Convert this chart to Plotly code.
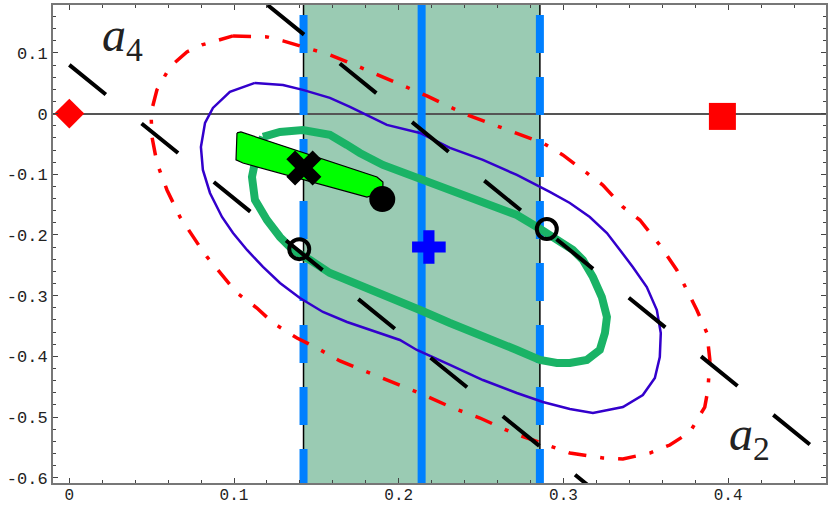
import plotly.graph_objects as go

# axis ranges / ticks
x_range = [-0.0099, 0.4594]
y_range = [-0.6087, 0.179]
x_ticks = [0, 0.1, 0.2, 0.3, 0.4]
x_ticktext = ["0", "0.1", "0.2", "0.3", "0.4"]
y_ticks = [-0.6, -0.5, -0.4, -0.3, -0.2, -0.1, 0, 0.1]
y_ticktext = ["-0.6", "-0.5", "-0.4", "-0.3", "-0.2", "-0.1", "0", "0.1"]

# shaded band and its edges
band_lo = 0.1422
band_hi = 0.2857
band_mid = 0.2139
band_y = [0.1627, -0.64]

# outer red dash-dot contour
red_x = [0.0994, 0.1200, 0.1297, 0.1480, 0.1583, 0.1704, 0.1886, 0.2050, 0.2171, 0.2311,
         0.2432, 0.2596, 0.2717, 0.2875, 0.2996, 0.3118, 0.3239, 0.3361, 0.3464, 0.3585,
         0.3688, 0.3810, 0.3871, 0.3889, 0.3877, 0.3858, 0.3810, 0.3768, 0.3646, 0.3525,
         0.3361, 0.3239, 0.3039, 0.2936, 0.2693, 0.2493, 0.2329, 0.2110, 0.1782, 0.1643,
         0.1503, 0.1382, 0.1237, 0.1139, 0.1018, 0.0915, 0.0836, 0.0793, 0.0672, 0.0593,
         0.0532, 0.0502, 0.0496, 0.0532, 0.0611, 0.0714, 0.0805, 0.0994]
red_y = [0.1281, 0.1264, 0.1198, 0.1050, 0.0968, 0.0836, 0.0622, 0.0440, 0.0292, 0.0110,
         -0.0038, -0.0203, -0.0318, -0.0483, -0.0681, -0.0928, -0.1176, -0.1538, -0.1753, -0.2165,
         -0.2576, -0.3236, -0.3615, -0.4060, -0.4554, -0.4835, -0.5049, -0.5247, -0.5461, -0.5593,
         -0.5692, -0.5675, -0.5593, -0.5494, -0.5263, -0.5016, -0.4851, -0.4587, -0.4225, -0.4076,
         -0.3862, -0.3697, -0.3450, -0.3203, -0.2956, -0.2626, -0.2362, -0.2197, -0.1703, -0.1258,
         -0.0813, -0.0384, 0.0012, 0.0391, 0.0770, 0.1017, 0.1132, 0.1281]

# middle indigo contour
blue_x = [0.1127, 0.1297, 0.1418, 0.1582, 0.1704, 0.1928, 0.2129, 0.2311, 0.2511, 0.2717,
          0.2917, 0.3039, 0.3160, 0.3264, 0.3343, 0.3421, 0.3506, 0.3567, 0.3591, 0.3585,
          0.3555, 0.3482, 0.3361, 0.3179, 0.3039, 0.2875, 0.2717, 0.2511, 0.2311, 0.2110,
          0.2007, 0.1686, 0.1540, 0.1400, 0.1279, 0.1176, 0.1079, 0.0994, 0.0927, 0.0854,
          0.0811, 0.0799, 0.0824, 0.0872, 0.0975, 0.1127]
blue_y = [0.0506, 0.0473, 0.0391, 0.0259, 0.0110, -0.0186, -0.0319, -0.0565, -0.0763, -0.1010,
          -0.1290, -0.1472, -0.1703, -0.1967, -0.2247, -0.2527, -0.2857, -0.3236, -0.3615, -0.4011,
          -0.4357, -0.4637, -0.4835, -0.4934, -0.4868, -0.4752, -0.4604, -0.4390, -0.4142, -0.3895,
          -0.3730, -0.3434, -0.3269, -0.3038, -0.2791, -0.2527, -0.2247, -0.1966, -0.1703, -0.1307,
          -0.0928, -0.0549, -0.0153, 0.0094, 0.0358, 0.0506]

# inner green contour
green_x = [0.1176, 0.1279, 0.1418, 0.1582, 0.1686, 0.1764, 0.1904, 0.2147, 0.2311, 0.2511,
           0.2717, 0.2839, 0.2960, 0.3057, 0.3118, 0.3179, 0.3233, 0.3264, 0.3252, 0.3221,
           0.3142, 0.3039, 0.2960, 0.2857, 0.2717, 0.2511, 0.2311, 0.2129, 0.1904, 0.1686,
           0.1582, 0.1461, 0.1358, 0.1279, 0.1200, 0.1127, 0.1109, 0.1139, 0.1176]
green_y = [-0.0384, -0.0302, -0.0269, -0.0351, -0.0516, -0.0648, -0.0846, -0.1093, -0.1258, -0.1456,
           -0.1670, -0.1868, -0.2082, -0.2247, -0.2412, -0.2693, -0.3022, -0.3352, -0.3615, -0.3895,
           -0.4060, -0.4109, -0.4109, -0.4060, -0.3895, -0.3680, -0.3450, -0.3236, -0.2988, -0.2774,
           -0.2626, -0.2411, -0.2247, -0.2033, -0.1752, -0.1422, -0.1043, -0.0648, -0.0384]

# lime region
lime_x = [0.1018, 0.1042, 0.1868, 0.1904, 0.1904, 0.1807, 0.1054, 0.1012, 0.1018]
lime_y = [-0.0318, -0.0302, -0.1044, -0.1127, -0.1292, -0.1374, -0.0813, -0.0763, -0.0318]

# dashed straight lines (a4 and a2 directions)
line4_x = [0.0, 0.34]
line4_y = [0.0803, -0.6677]
line2_x = [0.0765, 0.48]
line2_y = [0.2755, -0.6122]

# points
diamond_pt = (0.0, 0.0)
square_pt = (0.3965, -0.0046)
cross_pt = (0.2183, -0.2198)
xmark_pt = (0.1424, -0.0896)
dot_pt = (0.1900, -0.1409)
ring_x = [0.1396, 0.2899]
ring_y = [-0.2233, -0.1903]

fig = go.Figure()

fig.add_vrect(x0=band_lo, x1=band_hi, fillcolor="#9acbb3", line_width=0, layer="below")

for bx in (band_lo, band_hi):
    fig.add_trace(go.Scatter(x=[bx, bx], y=[0.2, -0.65], mode="lines",
                             line=dict(color="black", width=1.5)))
    fig.add_trace(go.Scatter(x=[bx, bx], y=band_y, mode="lines",
                             line=dict(color="#0080ff", width=8, dash="38px,24px")))
fig.add_trace(go.Scatter(x=[band_mid, band_mid], y=[0.2, -0.65], mode="lines",
                         line=dict(color="#0080ff", width=8)))

fig.add_trace(go.Scatter(x=red_x, y=red_y, mode="lines",
                         line=dict(color="#ff0000", width=3.5, dash="18px,14px,4px,14px")))
fig.add_trace(go.Scatter(x=blue_x, y=blue_y, mode="lines",
                         line=dict(color="#3300cc", width=2.5)))
fig.add_trace(go.Scatter(x=green_x, y=green_y, mode="lines",
                         line=dict(color="#1ab366", width=8)))

fig.add_trace(go.Scatter(x=line4_x, y=line4_y, mode="lines",
                         line=dict(color="black", width=4, dash="47px,46px")))
fig.add_trace(go.Scatter(x=line2_x, y=line2_y, mode="lines",
                         line=dict(color="black", width=4, dash="47px,46px")))

fig.add_trace(go.Scatter(x=lime_x, y=lime_y, mode="lines", fill="toself",
                         fillcolor="#00ff00", line=dict(color="black", width=1.2)))

fig.add_trace(go.Scatter(x=[dot_pt[0]], y=[dot_pt[1]], mode="markers",
                         marker=dict(symbol="circle", size=26, color="black")))
fig.add_trace(go.Scatter(x=[xmark_pt[0]], y=[xmark_pt[1]], mode="markers",
                         marker=dict(symbol="x", size=31, color="black")))
fig.add_trace(go.Scatter(x=[cross_pt[0]], y=[cross_pt[1]], mode="markers",
                         marker=dict(symbol="cross", size=28, color="#0000ff")))
fig.add_trace(go.Scatter(x=ring_x, y=ring_y, mode="markers",
                         marker=dict(symbol="circle-open", size=20, color="black",
                                     line=dict(width=4, color="black"))))
fig.add_trace(go.Scatter(x=[diamond_pt[0]], y=[diamond_pt[1]], mode="markers", cliponaxis=False,
                         marker=dict(symbol="diamond", size=23, color="#ff0000")))
fig.add_trace(go.Scatter(x=[square_pt[0]], y=[square_pt[1]], mode="markers",
                         marker=dict(symbol="square", size=27, color="#ff0000")))

label_font = dict(family="Liberation Serif", size=48, color="#222")
fig.add_annotation(x=0.0185, y=0.124, xref="x", yref="y", text="<i>a</i><sub>4</sub>",
                   showarrow=False, xanchor="left", yanchor="middle", font=label_font)
fig.add_annotation(x=0.399, y=-0.533, xref="x", yref="y", text="<i>a</i><sub>2</sub>",
                   showarrow=False, xanchor="left", yanchor="middle", font=label_font)

axis_common = dict(
    showgrid=False, showline=True, mirror="ticks", linecolor="#777", linewidth=2,
    ticks="inside", ticklen=5, tickwidth=1.2, tickcolor="#444", automargin=False,
)
fig.update_xaxes(range=x_range, tickmode="array", tickvals=x_ticks, ticktext=x_ticktext,
                 zeroline=False, ticklabelstandoff=-4,
                 tickfont=dict(family="Liberation Mono", size=16, color="#222"),
                 minor=dict(tickmode="linear", tick0=0, dtick=0.02, ticks="inside",
                            ticklen=3, tickcolor="#444"),
                 **axis_common)
fig.update_yaxes(range=y_range, tickmode="array", tickvals=y_ticks, ticktext=y_ticktext,
                 zeroline=True, zerolinecolor="#555", zerolinewidth=1.5,
                 tickfont=dict(family="Liberation Mono", size=17, color="#222"),
                 minor=dict(tickmode="linear", tick0=0, dtick=0.02, ticks="inside",
                            ticklen=3, tickcolor="#444"),
                 **axis_common)

fig.update_layout(
    width=830, height=508,
    margin=dict(l=53, r=4, t=5, b=25),
    plot_bgcolor="white", paper_bgcolor="white",
    showlegend=False,
)

fig.write_html("out.html", config={"displayModeBar": False},
               post_script="document.body.style.margin='0';")
